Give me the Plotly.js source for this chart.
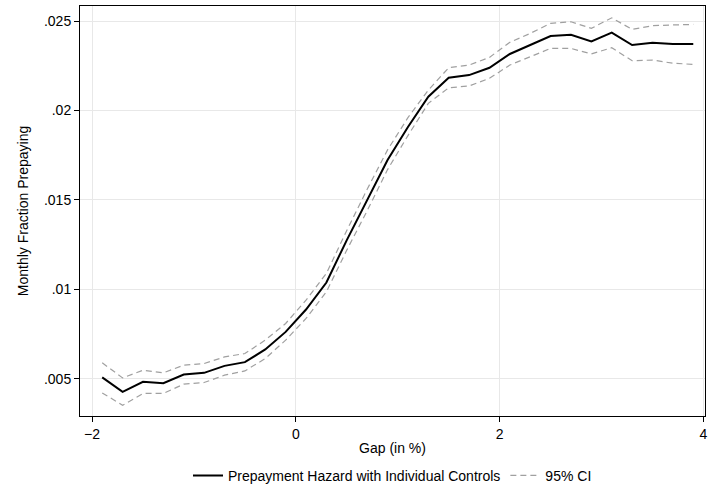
<!DOCTYPE html>
<html>
<head>
<meta charset="utf-8">
<script src="https://cdn.plot.ly/plotly-3.0.1.min.js"></script>
<style>html,body{margin:0;padding:0;background:#fff}#plotDiv{width:708px;height:495px}</style>
</head>
<body>
<div id="plotDiv"></div>
<script>
// Prepayment hazard by rate gap, with 95% CI bands.
const gap = [-1.9, -1.7, -1.5, -1.3, -1.1, -0.9, -0.7, -0.5, -0.3, -0.1,
    0.1, 0.3, 0.5, 0.7, 0.9, 1.1, 1.3, 1.5, 1.7, 1.9,
    2.1, 2.3, 2.5, 2.7, 2.9, 3.1, 3.3, 3.5, 3.7, 3.9];
const hazard = [.00509, .00428, .00484, .00476, .00525, .00534, .00573, .00594, .00665, .00763,
    .00888, .01039, .01276, .01500, .01723, .01908, .02077, .02183, .02198, .02239,
    .02316, .02366, .02416, .02423, .02386, .02435, .02366, .02379, .02371, .02371];
const ciHigh = [.00590, .00506, .00549, .00534, .00577, .00586, .00623, .00642, .00717, .00810,
    .00940, .01090, .01330, .01560, .01780, .01960, .02114, .02239, .02254, .02297,
    .02381, .02431, .02487, .02496, .02459, .02518, .02453, .02474, .02478, .02481];
const ciLow = [.00422, .00353, .00419, .00419, .00471, .00480, .00521, .00545, .00614, .00717,
    .00838, .00987, .01220, .01440, .01670, .01860, .02040, .02127, .02137, .02180,
    .02254, .02301, .02347, .02347, .02316, .02351, .02278, .02282, .02264, .02258];
const yTicks = [.005, .01, .015, .02, .025];
const yTickText = ['.005', '.01', '.015', '.02', '.025'];
const xTicks = [-2, 0, 2, 4];
const xTickText = ['\u22122', '0', '2', '4'];

const ciStyle = { color: '#a0a0a0', width: 1.2, dash: '6px,4px' };
const traces = [
    { x: gap, y: hazard, type: 'scatter', mode: 'lines', name: 'Prepayment Hazard with Individual Controls',
      line: { color: '#000', width: 2 } },
    { x: gap, y: ciHigh, type: 'scatter', mode: 'lines', name: '95% CI', line: ciStyle },
    { x: gap, y: ciLow, type: 'scatter', mode: 'lines', name: '95% CI', line: ciStyle, showlegend: false },
];

const axisBase = {
    showline: true, linecolor: '#000', linewidth: 1, mirror: true,
    ticks: 'outside', ticklen: 5, tickcolor: '#000',
    gridcolor: '#e8e8e8', zeroline: false,
    tickfont: { size: 14, color: '#000' },
};

const layout = {
    width: 708, height: 495,
    paper_bgcolor: '#fff', plot_bgcolor: '#fff',
    font: { family: 'Liberation Sans, Arial, sans-serif', color: '#000', size: 14 },
    margin: { l: 80, r: 3, t: 6, b: 79 },
    xaxis: { ...axisBase, range: [-2.118, 4.015], tickvals: xTicks, ticktext: xTickText,
        automargin: false,
        title: { text: 'Gap (in %)', font: { size: 14 }, standoff: 2 } },
    yaxis: { ...axisBase, range: [0.00293, 0.02584], tickvals: yTicks, ticktext: yTickText,
        title: { text: 'Monthly Fraction Prepaying', font: { size: 14 }, standoff: 12 } },
    legend: { orientation: 'h', x: 0.5, xanchor: 'center', y: -0.185, yanchor: 'bottom',
        font: { size: 14 }, traceorder: 'normal' },
    showlegend: true,
};

Plotly.newPlot('plotDiv', traces, layout, { displayModeBar: false, staticPlot: true });
</script>
</body>
</html>
